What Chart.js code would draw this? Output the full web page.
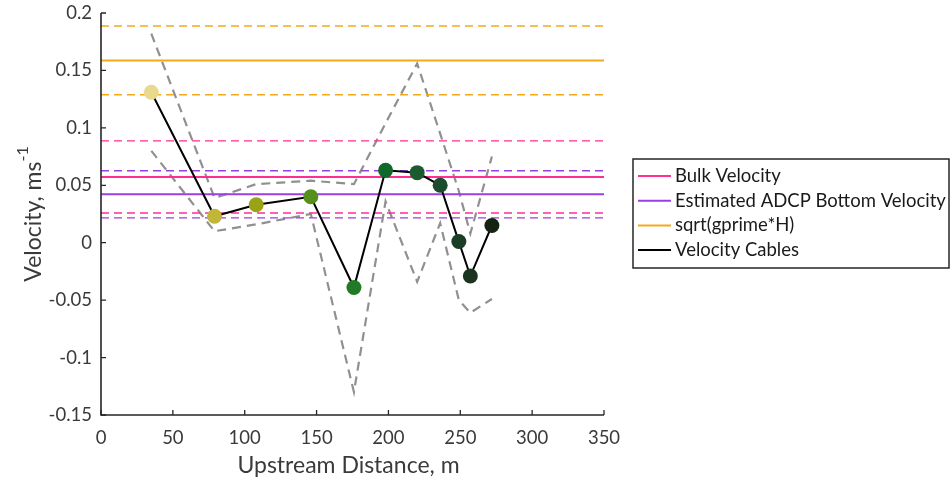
<!DOCTYPE html>
<html>
<head>
<meta charset="utf-8">
<script src="https://cdn.jsdelivr.net/npm/chart.js@4"></script>
<style>
  html, body { margin: 0; padding: 0; background: #fff; }
  canvas { display: block; }
</style>
</head>
<body>
<canvas id="velocityChart" width="952" height="482"></canvas>
<script>
// Velocity cables: position upstream (m) and measured velocity (m/s)
const distance = [35, 79, 108, 146, 176, 198, 220, 236, 249, 257, 272];
const velocity = [0.131, 0.023, 0.033, 0.040, -0.039, 0.063, 0.061, 0.050, 0.001, -0.029, 0.015];
const velocityUpper = [0.182, 0.039, 0.051, 0.054, 0.051, 0.104, 0.156, 0.095, 0.045, 0.008, 0.075];
const velocityLower = [0.080, 0.010, 0.016, 0.025, -0.130, 0.036, -0.034, 0.017, -0.050, -0.061, -0.049];
const cableColours = ['#e8d98c', '#c0b637', '#9aa316', '#55901c', '#237a26', '#10692b', '#1c5b30',
                      '#1d4b2d', '#1b3f26', '#1a3420', '#172312'];

// Reference velocities: [mean, lower, upper]
const bulkVelocity = [0.0573, 0.0259, 0.0887];
const adcpVelocity = [0.0423, 0.0216, 0.0627];
const waveSpeed = [0.1587, 0.1288, 0.1887];

const xRange = [0, 350];
const xTicks = [0, 50, 100, 150, 200, 250, 300, 350];
const xTickLabels = ['0', '50', '100', '150', '200', '250', '300', '350'];
const yTicks = [-0.15, -0.1, -0.05, 0, 0.05, 0.1, 0.15, 0.2];
const yTickLabels = ['-0.15', '-0.1', '-0.05', '0', '0.05', '0.1', '0.15', '0.2'];

const PINK = '#ff2e93';
const PURPLE = '#9a3fe3';
const ORANGE = '#f6a81c';
const FONT = 'Lato, "Open Sans", sans-serif';
const TEXT = '#3a3a3a';

function hline(v) {
  return xRange.map(x => ({ x: x, y: v }));
}

function refLine(label, colour, v, dashed) {
  return {
    label: label,
    inLegend: !dashed,
    data: hline(v),
    showLine: true,
    borderColor: colour,
    borderWidth: dashed ? 1.4 : 2,
    borderDash: dashed ? [8, 5] : [],
    pointRadius: 0,
  };
}

function boundLine(values) {
  return {
    label: '',
    data: distance.map((x, i) => ({ x: x, y: values[i] })),
    showLine: true,
    borderColor: '#909090',
    borderWidth: 2.2,
    borderDash: [9, 6],
    pointRadius: 0,
  };
}

// draws left/bottom axis lines with inward ticks, the axis titles and the legend box
const axesAndLegend = {
  id: 'axesAndLegend',
  afterDraw(chart) {
    const ctx = chart.ctx;
    const { left, right, top, bottom } = chart.chartArea;
    const xs = chart.scales.x, ys = chart.scales.y;

    ctx.save();
    ctx.strokeStyle = '#262626';
    ctx.lineWidth = 1.6;
    ctx.beginPath();
    ctx.moveTo(left, top);
    ctx.lineTo(left, bottom);
    ctx.lineTo(right, bottom);
    ctx.stroke();
    ctx.lineWidth = 1.3;
    ctx.beginPath();
    xTicks.forEach(v => {
      const px = xs.getPixelForValue(v);
      ctx.moveTo(px, bottom);
      ctx.lineTo(px, bottom - 5);
    });
    yTicks.forEach(v => {
      const py = ys.getPixelForValue(v);
      ctx.moveTo(left, py);
      ctx.lineTo(left + 5, py);
    });
    ctx.stroke();

    // x title
    ctx.fillStyle = TEXT;
    ctx.font = '23px ' + FONT;
    ctx.textAlign = 'center';
    ctx.textBaseline = 'middle';
    ctx.fillText('Upstream Distance, m', (left + right) / 2 - 4, 466);

    // y title with superscript unit
    ctx.translate(34, (top + bottom) / 2);
    ctx.rotate(-Math.PI / 2);
    const main = 'Velocity, ms';
    const sup = '-1';
    ctx.font = '23px ' + FONT;
    const w1 = ctx.measureText(main).width;
    ctx.font = '16px ' + FONT;
    const w2 = ctx.measureText(sup).width;
    const x0 = -(w1 + w2) / 2;
    ctx.textAlign = 'left';
    ctx.font = '23px ' + FONT;
    ctx.fillText(main, x0, 0);
    ctx.font = '16px ' + FONT;
    ctx.fillText(sup, x0 + w1, -11);
    ctx.restore();

    // legend
    const items = chart.data.datasets.filter(d => d.inLegend);
    const box = { x: 633, y: 159, w: 316, h: 109 };
    ctx.save();
    ctx.fillStyle = '#fff';
    ctx.fillRect(box.x, box.y, box.w, box.h);
    ctx.strokeStyle = '#262626';
    ctx.lineWidth = 1.5;
    ctx.strokeRect(box.x, box.y, box.w, box.h);
    ctx.font = '18.5px ' + FONT;
    ctx.textAlign = 'left';
    ctx.textBaseline = 'middle';
    items.forEach((d, i) => {
      const y = box.y + 17 + i * 24.7;
      ctx.strokeStyle = d.borderColor;
      ctx.lineWidth = 2;
      ctx.beginPath();
      ctx.moveTo(box.x + 5, y);
      ctx.lineTo(box.x + 38, y);
      ctx.stroke();
      ctx.fillStyle = '#1a1a1a';
      ctx.fillText(d.label, box.x + 42, y);
    });
    ctx.restore();
  }
};

const datasets = [
  boundLine(velocityUpper),
  boundLine(velocityLower),
  refLine('', PINK, bulkVelocity[1], true),
  refLine('', PINK, bulkVelocity[2], true),
  refLine('', PURPLE, adcpVelocity[1], true),
  refLine('', PURPLE, adcpVelocity[2], true),
  refLine('', ORANGE, waveSpeed[1], true),
  refLine('', ORANGE, waveSpeed[2], true),
  refLine('Bulk Velocity', PINK, bulkVelocity[0], false),
  refLine('Estimated ADCP Bottom Velocity', PURPLE, adcpVelocity[0], false),
  refLine('sqrt(gprime*H)', ORANGE, waveSpeed[0], false),
  {
    label: 'Velocity Cables',
    inLegend: true,
    data: distance.map((x, i) => ({ x: x, y: velocity[i] })),
    showLine: true,
    borderColor: '#000',
    borderWidth: 2,
    pointRadius: 7.5,
    pointBorderWidth: 0,
    pointBackgroundColor: cableColours,
    pointBorderColor: cableColours,
  },
];
// reference lines underneath, cables on top
datasets.forEach((d, i) => { d.order = datasets.length - i; });

new Chart(document.getElementById('velocityChart'), {
  type: 'scatter',
  data: { datasets: datasets },
  options: {
    responsive: false,
    devicePixelRatio: 1,
    animation: false,
    events: [],
    layout: { padding: { top: 13, right: 348, left: 0, bottom: 0 } },
    plugins: { legend: { display: false }, tooltip: { enabled: false } },
    scales: {
      x: {
        type: 'linear',
        min: xRange[0],
        max: xRange[1],
        afterBuildTicks: s => { s.ticks = xTicks.map(v => ({ value: v })); },
        afterFit: s => { s.height = 67; s.paddingLeft = 0; s.paddingRight = 0; },
        grid: { display: false, drawTicks: false },
        border: { display: false },
        ticks: {
          callback: (v, i) => xTickLabels[i],
          font: { family: FONT, size: 18.5 },
          color: TEXT,
          padding: 12,
          maxRotation: 0,
        },
      },
      y: {
        type: 'linear',
        min: yTicks[0],
        max: yTicks[yTicks.length - 1],
        afterBuildTicks: s => { s.ticks = yTicks.map(v => ({ value: v })); },
        afterFit: s => { s.width = 101; s.paddingTop = 0; s.paddingBottom = 0; },
        grid: { display: false, drawTicks: false },
        border: { display: false },
        ticks: {
          callback: (v, i) => yTickLabels[i],
          font: { family: FONT, size: 18.5 },
          color: TEXT,
          padding: 9,
        },
      },
    },
  },
  plugins: [axesAndLegend],
});
</script>
</body>
</html>
